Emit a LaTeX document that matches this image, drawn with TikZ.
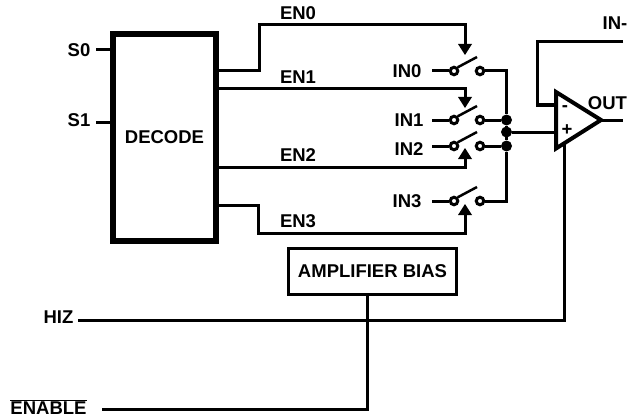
\documentclass[tikz,border=0pt]{standalone}
\usepackage{fontspec}
\setmainfont{Liberation Sans}
\usetikzlibrary{calc}
\tikzset{
  wire/.style={line width=3pt,line cap=butt,line join=miter},
  lab/.style={font=\fontsize{18.5}{20}\selectfont\bfseries,inner sep=0pt,anchor=center},
  term/.style={circle,draw,line width=3pt,fill=white,minimum size=7.5pt,inner sep=0pt},
  dot/.style={circle,fill=black,minimum size=11pt,inner sep=0pt},
  decodebox/.style={draw,line width=6pt,inner sep=0pt},
  biasbox/.style={draw,line width=3pt,inner sep=0pt},
}
\begin{document}
\begin{tikzpicture}[x=1pt,y=-1pt]
\useasboundingbox (0,0) rectangle (628,417);
% decoder
\node[decodebox,minimum width=103pt,minimum height=207pt,lab] (dec) at (164.5,137.5) {DECODE};
\node[lab] (s0) at (79,50) {S0};
\node[lab] (s1) at (79,120) {S1};
\coordinate (s0w) at (96,50);
\coordinate (s1w) at (96,122.5);
\draw[wire] (s0w) -- (s0w -| dec.west);
\draw[wire] (s1w) -- (s1w -| dec.west);
% labels EN
\node[lab] (en0) at (298,13) {EN0};
\node[lab] (en1) at (298,77) {EN1};
\node[lab] (en2) at (298,155) {EN2};
\node[lab] (en3) at (298,221) {EN3};
% switches
\node[lab] (in0) at (407,71) {IN0};
\node[lab] (in1) at (409,120) {IN1};
\node[lab] (in2) at (409,149) {IN2};
\node[lab] (in3) at (407,201) {IN3};
\foreach \n/\y in {0/71,1/120,2/146,3/201}{
  \coordinate (w\n) at (432,\y);
  \node[term] (a\n) at (454,\y) {};
  \node[term] (b\n) at (480,\y) {};
  \coordinate (arm\n) at (477,\y-14);
  \draw[wire] (w\n) -- (a\n);
  \draw[wire,line width=2.5pt] (a\n.45) -- (arm\n);
}
% common bus
\node[dot] (j1) at (506.5,120) {};
\node[dot] (jm) at (506.5,132) {};
\node[dot] (j2) at (506.5,146) {};
\draw[wire] (b0) -- (b0 -| j1) -- (j1);
\draw[wire] (b1) -- (j1);
\draw[wire] (b2) -- (j2);
\draw[wire] (b3) -- (b3 -| j2) -- (j2);
\draw[wire] (j1) -- (j2);
% HIZ
\node[lab] (hiz) at (58.5,317) {HIZ};
\coordinate (hw) at (78,320);
\coordinate (hc) at (564,320);
\draw[wire] (hw) -- (hc) -- (564,141);
% amplifier
\coordinate (t1) at (556,92);
\coordinate (t2) at (601,120);
\coordinate (t3) at (556,148.5);
\draw[line width=4pt,miter limit=10,fill=white] (t1) -- (t2) -- (t3) -- cycle;
\coordinate (inm) at (556,105);
\coordinate (inp) at (556,132);
\draw[wire] (jm) -- (inp);
\node[lab,anchor=base] (minus) at (565,111) {-};
\node[lab] (plus) at (567,130) {+};
\coordinate (outr) at (623,120);
\draw[wire] (t2) -- (outr);
\node[lab] (out) at (607.5,103) {OUT};
\coordinate (fbr) at (623,42);
\coordinate (fbl) at (537.5,42);
\draw[wire] (fbr) -- (fbl) -- (fbl |- inm) -- (inm);
\node[lab,anchor=west] (inneg) at (602.5,23) {IN-};
% enable lines
\coordinate (e0a) at (259,71);
\coordinate (e0b) at (259,25);
\coordinate (e0c) at (465,25);
\draw[wire] (dec.east |- e0a) -- (e0a) -- (e0b) -- (e0c) -- (465,50);
\fill (458,44) -- (472,44) -- (465,55) -- cycle;
\coordinate (e1c) at (465,89);
\draw[wire] (dec.east |- e1c) -- (e1c) -- (465,103);
\fill (458,97) -- (472,97) -- (465,108) -- cycle;
\coordinate (e2c) at (465,167);
\draw[wire] (dec.east |- e2c) -- (e2c) -- (465,153);
\fill (458,159) -- (472,159) -- (465,148) -- cycle;
\coordinate (e3a) at (258,205);
\coordinate (e3b) at (258,233);
\coordinate (e3c) at (465,233);
\draw[wire] (dec.east |- e3a) -- (e3a) -- (e3b) -- (e3c) -- (465,210);
\fill (458,215) -- (472,215) -- (465,204) -- cycle;
% bias
\node[biasbox,minimum width=167.5pt,minimum height=46.5pt,lab] (bias) at (372.5,271.5) {AMPLIFIER BIAS};
% ENABLE
\node[lab,anchor=base] (en) at (48.5,414.5) {$\overline{\mbox{ENABLE}}$};
\coordinate (enw) at (102,409);
\coordinate (enc) at (367,409);
\draw[wire] (enw) -- (enc) -- (enc |- bias.south);
\end{tikzpicture}
\end{document}
